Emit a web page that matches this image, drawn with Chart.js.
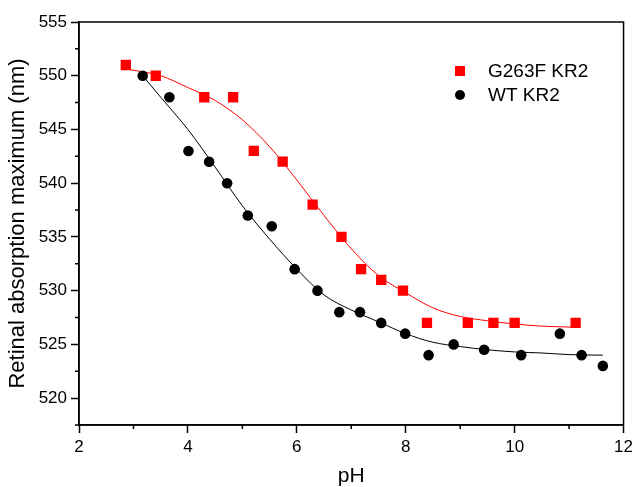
<!DOCTYPE html>
<html lang="en">
<head>
    <meta charset="UTF-8">
    <title>Retinal absorption maximum vs pH</title>
    <script src="https://cdn.jsdelivr.net/npm/chart.js"></script>
    <style>
        html, body { margin: 0; padding: 0; background: #fff; }
        #wrap { width: 637px; height: 487px; }
    </style>
</head>
<body>
    <div id="wrap"><canvas id="chart" width="637" height="487"></canvas></div>
    <script>
        // measured points (pH, nm)
        const mutPH = [2.86, 3.41, 4.30, 4.83, 5.21, 5.74, 6.29, 6.82, 7.18, 7.55, 7.95, 8.39, 9.14, 9.61, 10.0, 11.12];
        const mutNm = [551, 550, 548, 548, 543, 542, 538, 535, 532, 531, 530, 527, 527, 527, 527, 527];
        const wtPH = [3.17, 3.66, 4.01, 4.39, 4.72, 5.10, 5.54, 5.96, 6.38, 6.78, 7.16, 7.55, 7.99, 8.42, 8.88, 9.44, 10.12, 10.83, 11.23, 11.62];
        const wtNm = [550, 548, 543, 542, 540, 537, 536, 532, 530, 528, 528, 527, 526, 524, 525, 524.5, 524, 526, 524, 523];

        // fitted curves
        const mutFitPH = [2.9, 3.5, 4.0, 4.5, 5.0, 5.5, 6.0, 6.5, 7.0, 7.5, 8.0, 8.5, 9.0, 9.5, 10.0, 10.5, 11.1];
        const mutFitNm = [550.6, 550.0, 548.9, 547.7, 545.9, 543.4, 540.3, 537.0, 533.9, 531.4, 529.8, 528.4, 527.6, 527.2, 526.9, 526.7, 526.6];
        const wtFitPH = [3.17, 3.5, 4.0, 4.5, 5.0, 5.5, 6.0, 6.5, 7.0, 7.5, 8.0, 8.5, 9.0, 9.5, 10.0, 10.5, 11.0, 11.62];
        const wtFitNm = [550.0, 548.0, 545.0, 541.5, 537.9, 534.8, 532.0, 529.6, 528.2, 527.1, 526.0, 525.2, 524.8, 524.5, 524.3, 524.2, 524.05, 524.0];

        const xTicks = [2, 4, 6, 8, 10, 12];
        const xMinor = [3, 5, 7, 9, 11];
        const yTicks = [520, 525, 530, 535, 540, 545, 550, 555];
        const yMinor = [517.5, 522.5, 527.5, 532.5, 537.5, 542.5, 547.5, 552.5];

        const legendNames = ['G263F KR2', 'WT KR2'];

        const toXY = (xs, ys) => xs.map((x, i) => ({ x: x, y: ys[i] }));
        const FONT = '"Liberation Sans", Arial, sans-serif';

        // frame, minor ticks and legend inside the plot
        const extras = {
            id: 'extras',
            afterDraw(chart) {
                const c = chart.ctx;
                const a = chart.chartArea;
                const xs = chart.scales.x, ys = chart.scales.y;
                c.save();
                c.strokeStyle = '#000';
                c.lineWidth = 1.5;
                c.strokeRect(a.left, a.top, a.right - a.left, a.bottom - a.top);
                c.beginPath();
                xMinor.forEach(v => {
                    const px = xs.getPixelForValue(v);
                    c.moveTo(px, a.bottom);
                    c.lineTo(px, a.bottom + 4);
                });
                yMinor.forEach(v => {
                    const py = ys.getPixelForValue(v);
                    c.moveTo(a.left, py);
                    c.lineTo(a.left - 4, py);
                });
                c.stroke();

                // legend
                c.font = '19px ' + FONT;
                c.textBaseline = 'middle';
                const lx = a.left + 381, ly = a.top + 49;
                c.fillStyle = '#ff0000';
                c.fillRect(lx - 5, ly - 5, 10, 10);
                c.fillStyle = '#000';
                c.beginPath();
                c.arc(lx, ly + 24, 5, 0, Math.PI * 2);
                c.fill();
                c.fillText(legendNames[0], lx + 28, ly + 1);
                c.fillText(legendNames[1], lx + 28, ly + 25);
                c.restore();
            }
        };

        new Chart(document.getElementById('chart'), {
            type: 'scatter',
            data: {
                datasets: [
                    {
                        label: legendNames[0],
                        data: toXY(mutPH, mutNm),
                        pointStyle: 'rect',
                        pointRadius: 7.3,
                        backgroundColor: '#ff0000',
                        borderWidth: 0,
                        order: 1
                    },
                    {
                        label: legendNames[1],
                        data: toXY(wtPH, wtNm),
                        pointStyle: 'circle',
                        pointRadius: 5.3,
                        backgroundColor: '#000',
                        borderWidth: 0,
                        order: 1
                    },
                    {
                        label: 'G263F fit',
                        type: 'line',
                        data: toXY(mutFitPH, mutFitNm),
                        borderColor: '#ff0000',
                        borderWidth: 1,
                        pointRadius: 0,
                        cubicInterpolationMode: 'monotone',
                        order: 2
                    },
                    {
                        label: 'WT fit',
                        type: 'line',
                        data: toXY(wtFitPH, wtFitNm),
                        borderColor: '#000',
                        borderWidth: 1,
                        pointRadius: 0,
                        cubicInterpolationMode: 'monotone',
                        order: 2
                    }
                ]
            },
            options: {
                responsive: false,
                animation: false,
                layout: { padding: { top: 22, right: 10, left: 0, bottom: 0 } },
                plugins: {
                    legend: { display: false },
                    tooltip: { enabled: false }
                },
                scales: {
                    x: {
                        type: 'linear',
                        min: 2,
                        max: 12,
                        afterBuildTicks: s => { s.ticks = xTicks.map(v => ({ value: v })); },
                        afterFit: s => { s.height = 62; },
                        grid: { drawOnChartArea: false, tickLength: 8, tickWidth: 1.5, tickColor: '#000' },
                        border: { color: '#000', width: 1.5 },
                        ticks: { color: '#000', padding: 4, font: { family: FONT, size: 17 } },
                        title: { display: true, text: 'pH', color: '#000', padding: { top: 4, bottom: -2 }, font: { family: FONT, size: 21 } }
                    },
                    y: {
                        type: 'linear',
                        min: 517.5,
                        max: 555,
                        afterBuildTicks: s => { s.ticks = yTicks.map(v => ({ value: v })); },
                        afterFit: s => { s.width = 79; },
                        grid: { drawOnChartArea: false, tickLength: 8, tickWidth: 1.5, tickColor: '#000' },
                        border: { color: '#000', width: 1.5 },
                        ticks: { color: '#000', padding: 4, font: { family: FONT, size: 17 } },
                        title: { display: true, text: 'Retinal absorption maximum (nm)', color: '#000', padding: { top: 5, bottom: 0 }, font: { family: FONT, size: 22 } }
                    }
                }
            },
            plugins: [extras]
        });
    </script>
</body>
</html>
